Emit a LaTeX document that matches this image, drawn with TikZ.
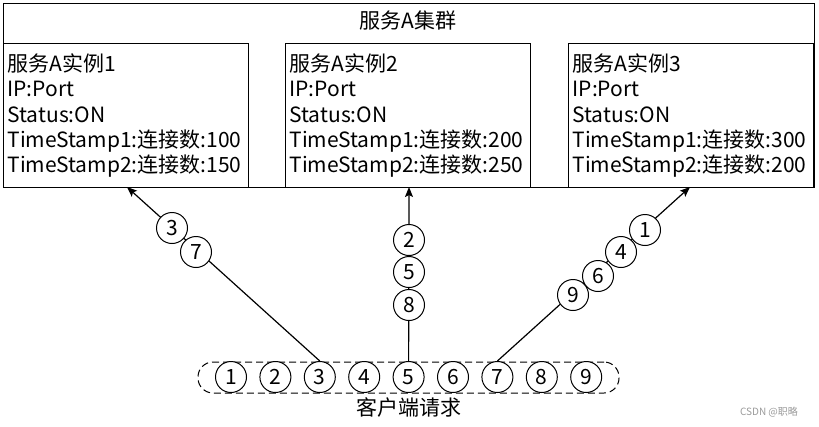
\documentclass[tikz,border=0pt]{standalone}
\usepackage{fontspec}
\setmainfont{Noto Sans CJK SC}
\usetikzlibrary{positioning, arrows.meta}
\definecolor{SVdark}{HTML}{000000}
\definecolor{SVgrey}{HTML}{9A9A9A}
\newcommand{\boxfont}{\fontsize{21}{25.3}\selectfont}

\begin{document}
\begin{tikzpicture}[x=1pt, y=-1pt, >={Stealth[length=10pt, width=8pt, inset=2pt]}, font=\boxfont,
    inst/.style={draw=SVdark, line width=1.1pt, anchor=north west, align=left,
                 text width=237pt, minimum height=144pt, inner xsep=4pt, inner ysep=0pt},
    req/.style={circle, draw=SVdark, fill=white, line width=1pt, inner sep=0pt, minimum size=31pt},
    flow/.style={SVdark, line width=1.2pt, ->}]
    \useasboundingbox (0,0) rectangle (819,426);
    % cluster frame and its title
    \node[draw=SVdark, line width=1.1pt, anchor=north west, minimum width=811pt, minimum height=184pt,
          inner sep=0pt] (cluster) at (3,3){};
    \node (title) at (408,20) {服务A集群};
    % the three service instances
    \node[inst] (inst1) at (3,43)
        {服务A实例1\\IP:Port\\Status:ON\\TimeStamp1:连接数:100\\TimeStamp2:连接数:150};
    \node[inst] (inst2) at (285,43)
        {服务A实例2\\IP:Port\\Status:ON\\TimeStamp1:连接数:200\\TimeStamp2:连接数:250};
    \node[inst] (inst3) at (568,43)
        {服务A实例3\\IP:Port\\Status:ON\\TimeStamp1:连接数:300\\TimeStamp2:连接数:200};
    % client request queue
    \node[draw=SVdark, dash pattern=on 7pt off 4pt, line width=1pt, rounded corners=15pt,
          minimum width=421pt, minimum height=31pt, inner sep=0pt] (queue) at (408.5,377.5){};
    \foreach \i in {1,...,9}
        \node[req] (c\i) at ({231+44.4*(\i-1)},377) {\i};
    \node[below=1pt of queue] (client) {客户端请求};
    % where the requests land
    \coordinate (t1) at (127,187);
    \coordinate (t2) at (409,187);
    \coordinate (t3) at (690,187);
    \draw[flow] (c3.north) -- (t1);
    \draw[flow] (c5.north) -- (t2);
    \draw[flow] (c7.north) -- (t3);
    % requests routed to each instance
    \node[req] (a3) at (172,228) {3};
    \node[req] (a7) at (196,252) {7};
    \node[req] (b2) at (409,240) {2};
    \node[req] (b5) at (409,272) {5};
    \node[req] (b8) at (409,305) {8};
    \node[req] (d9) at (573,295) {9};
    \node[req] (d6) at (598,276) {6};
    \node[req] (d4) at (621,252) {4};
    \node[req] (d1) at (645,230) {1};
    % watermark
    \node[SVgrey, font=\fontsize{10}{12}\selectfont] (mark) at (769,412) {CSDN @职略};
\end{tikzpicture}
\end{document}
